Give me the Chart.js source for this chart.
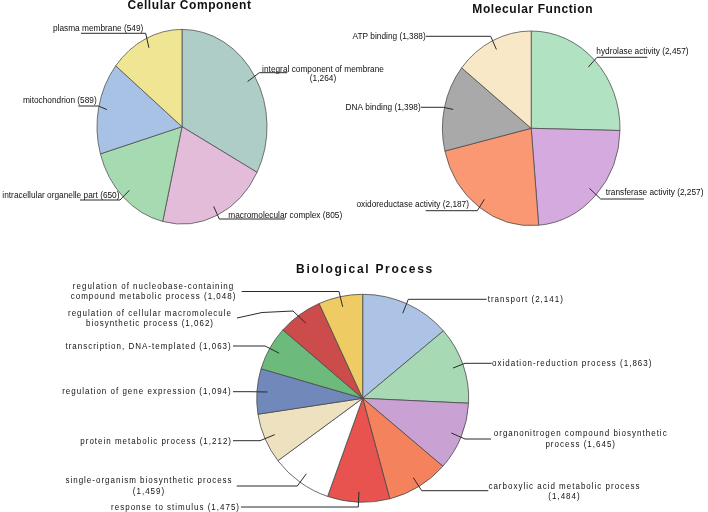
<!DOCTYPE html>
<html>
<head>
<meta charset="utf-8">
<script src="https://cdn.jsdelivr.net/npm/chart.js@4.4.1/dist/chart.umd.min.js"></script>
<style>
html, body { margin: 0; padding: 0; background: #fff; width: 708px; height: 512px; overflow: hidden; position: relative; }
canvas { position: absolute; }
</style>
</head>
<body>
<canvas id="cc" width="400" height="256" style="left:0px;top:0px"></canvas>
<canvas id="mf" width="368" height="256" style="left:340px;top:0px"></canvas>
<canvas id="bp" width="708" height="262" style="left:0px;top:250px"></canvas>
<script>
// Cellular Component
const ccNames = ['integral component of membrane', 'macromolecular complex', 'intracellular organelle part', 'mitochondrion', 'plasma membrane'];
const ccValues = [1264, 805, 650, 589, 549];
const ccColors = ['#aecdc6', '#e2bcd8', '#a6dab0', '#a8c2e6', '#f0e592'];

// Molecular Function
const mfNames = ['hydrolase activity', 'transferase activity', 'oxidoreductase activity', 'DNA binding', 'ATP binding'];
const mfValues = [2457, 2257, 2187, 1398, 1388];
const mfColors = ['#b1e2c1', '#d5aadf', '#fa9874', '#a9a9a9', '#f9e8c8'];

// Biological Process
const bpNames = ['transport', 'oxidation-reduction process', 'organonitrogen compound biosynthetic process',
  'carboxylic acid metabolic process', 'response to stimulus', 'single-organism biosynthetic process',
  'protein metabolic process', 'regulation of gene expression', 'transcription, DNA-templated',
  'regulation of cellular macromolecule biosynthetic process', 'regulation of nucleobase-containing compound metabolic process'];
const bpValues = [2141, 1863, 1645, 1484, 1475, 1459, 1212, 1094, 1063, 1062, 1048];
const bpColors = ['#adc3e6', '#a8d9b5', '#c9a1d3', '#f4825c', '#e8524f', '#ffffff', '#ede1c0', '#7189ba', '#6dbb7c', '#cc4b4b', '#eecb63'];

// label placement (page coords): text anchor, line break after n words, leader path elbow -> end
const ccLabels = [
  {tx: 323, ty: 69, align: 'center', br: 4, path: [[259.3, 72.7], [287.3, 72.7]]},
  {tx: 228.3, ty: 215, align: 'left', path: [[219.3, 219], [285, 219]]},
  {tx: 119.5, ty: 195, align: 'right', path: [[120, 200], [80, 200]]},
  {tx: 96.7, ty: 100.7, align: 'right', path: [[98.3, 106], [78.3, 106]]},
  {tx: 143.3, ty: 28, align: 'right', path: [[145.7, 33.3], [81, 33.3]]}
];
const mfLabels = [
  {tx: 596.3, ty: 51, align: 'left', path: [[597, 57.3], [647.3, 57.3]]},
  {tx: 605.7, ty: 192.7, align: 'left', path: [[600.7, 199], [644, 199]]},
  {tx: 469, ty: 204.3, align: 'right', path: [[477.3, 210.7], [425.7, 210.7]]},
  {tx: 420.7, ty: 107.3, align: 'right', path: [[443.3, 107.3], [421, 107.3]]},
  {tx: 425.7, ty: 36.3, align: 'right', path: [[490.7, 36.3], [426, 36.3]]}
];
const bpLabels = [
  {tx: 487.7, ty: 300, align: 'left', path: [[408.3, 299.3], [486.7, 299.3]]},
  {tx: 492, ty: 363.7, align: 'left', path: [[465, 363.3], [491.7, 363.3]]},
  {tx: 580.7, ty: 434, align: 'center', br: 3, path: [[465, 439], [491, 439]]},
  {tx: 564.5, ty: 486.7, align: 'center', br: 4, path: [[421.7, 490.7], [488.3, 490.7]]},
  {tx: 240, ty: 507.3, align: 'right', path: [[358.3, 507], [241, 507]]},
  {tx: 149, ty: 481, align: 'center', br: 3, path: [[297.3, 486], [236.7, 486]]},
  {tx: 232, ty: 441.7, align: 'right', path: [[260, 440.7], [233, 440.7]]},
  {tx: 231.7, ty: 391.7, align: 'right', path: [[250, 391.7], [233, 391.7]]},
  {tx: 231.7, ty: 346.7, align: 'right', path: [[265, 346], [233, 346]]},
  {tx: 150, ty: 313.3, align: 'center', br: 4, path: [[293, 311], [262, 312.5], [237, 318]]},
  {tx: 153.5, ty: 286.7, align: 'center', br: 3, path: [[339, 291.5], [241.7, 291.5]]}
];

const fmt = v => v.toLocaleString('en-US');

// draws pie squashed horizontally like the source image
const squash = {
  id: 'squash',
  beforeDatasetsDraw(chart, args, o) {
    const a = chart.getDatasetMeta(0).data[0];
    const ctx = chart.ctx;
    ctx.save();
    ctx.translate(a.x, a.y);
    ctx.scale(o.sx, 1);
    ctx.translate(-a.x, -a.y);
  },
  afterDatasetsDraw(chart) {
    chart.ctx.restore();
  }
};

const pieLabels = {
  id: 'pieLabels',
  afterDraw(chart, args, o) {
    const ctx = chart.ctx;
    const arcs = chart.getDatasetMeta(0).data;
    const names = chart.data.labels;
    const vals = chart.data.datasets[0].data;
    const sx = chart.options.plugins.squash.sx;
    ctx.save();
    ctx.fillStyle = '#111';
    ctx.textBaseline = 'middle';
    ctx.textAlign = 'center';
    ctx.font = 'bold 12px "Liberation Sans", Arial, sans-serif';
    ctx.letterSpacing = o.titleSpacing + 'px';
    ctx.fillText(o.title, o.titleX - o.left, o.titleY - o.top);

    ctx.font = o.font;
    ctx.letterSpacing = o.spacing + 'px';
    ctx.strokeStyle = '#2b2b2b';
    ctx.lineWidth = 1;
    o.labels.forEach((lab, i) => {
      const a = arcs[i];
      const mid = (a.startAngle + a.endAngle) / 2;
      const r = a.outerRadius * 0.9;
      ctx.beginPath();
      ctx.moveTo(a.x + Math.cos(mid) * r * sx, a.y + Math.sin(mid) * r);
      lab.path.forEach(p => ctx.lineTo(p[0] - o.left, p[1] - o.top));
      ctx.stroke();
      const words = `${names[i]} (${fmt(vals[i])})`.split(' ');
      const lines = lab.br ? [words.slice(0, lab.br).join(' '), words.slice(lab.br).join(' ')] : [words.join(' ')];
      ctx.textAlign = lab.align;
      lines.forEach((t, k) => {
        ctx.save();
        ctx.translate(lab.tx - o.left, lab.ty - o.top + k * o.lineH);
        ctx.scale(1, o.textSy);
        ctx.fillText(t, 0, 0);
        ctx.restore();
      });
    });
    ctx.restore();
  }
};

function makePie(id, box, names, values, colors, labels, extra) {
  const canvas = document.getElementById(id);
  const w = canvas.width, h = canvas.height;
  const cx = box.cx - box.left, cy = box.cy - box.top;
  const padding = {
    left: Math.max(0, 2 * cx - w), right: Math.max(0, w - 2 * cx),
    top: Math.max(0, 2 * cy - h), bottom: Math.max(0, h - 2 * cy)
  };
  return new Chart(canvas, {
    type: 'pie',
    data: {
      labels: names,
      datasets: [{
        data: values,
        backgroundColor: colors,
        borderColor: '#4a4a4a',
        borderWidth: 0.8,
        radius: box.ry
      }]
    },
    options: {
      responsive: false,
      animation: false,
      events: [],
      layout: {padding},
      plugins: {
        legend: {display: false},
        tooltip: {enabled: false},
        squash: {sx: box.rx / box.ry},
        pieLabels: Object.assign({labels, left: box.left, top: box.top}, extra)
      }
    },
    plugins: [squash, pieLabels]
  });
}

makePie('cc', {left: 0, top: 0, cx: 182, cy: 126.7, rx: 85, ry: 97.3}, ccNames, ccValues, ccColors, ccLabels, {
  title: 'Cellular Component', titleX: 189.5, titleY: 5.5, titleSpacing: 0.55,
  font: '8.3px "Liberation Sans", Arial, sans-serif', spacing: 0, lineH: 8.9, textSy: 1.15
});
makePie('mf', {left: 340, top: 0, cx: 531.2, cy: 128.3, rx: 88.8, ry: 97.3}, mfNames, mfValues, mfColors, mfLabels, {
  title: 'Molecular Function', titleX: 532.7, titleY: 10, titleSpacing: 0.6,
  font: '8.3px "Liberation Sans", Arial, sans-serif', spacing: 0, lineH: 8.9, textSy: 1.15
});
makePie('bp', {left: 0, top: 250, cx: 362.7, cy: 398.3, rx: 106, ry: 104}, bpNames, bpValues, bpColors, bpLabels, {
  title: 'Biological Process', titleX: 365, titleY: 269.5, titleSpacing: 1.7,
  font: '8px "Liberation Sans", Arial, sans-serif', spacing: 1, lineH: 10.3, textSy: 1.05
});
</script>
</body>
</html>
